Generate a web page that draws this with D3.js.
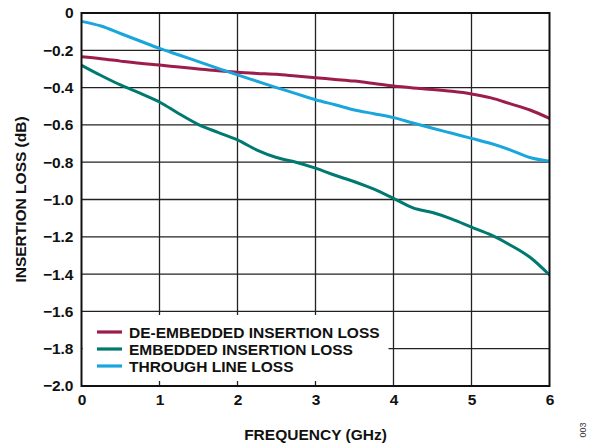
<!DOCTYPE html>
<html>
<head>
<meta charset="utf-8">
<script src="https://cdn.jsdelivr.net/npm/d3@7"></script>
<style>
  html, body { margin: 0; padding: 0; background: #fff; }
  svg { display: block; font-family: "Liberation Sans", Arial, Helvetica, sans-serif; }
</style>
</head>
<body>
<svg id="chart" width="596" height="448"></svg>
<script>
// ---- data ----
const freq = [0, 0.25, 0.5, 0.75, 1.0, 1.25, 1.5, 1.75, 2.0, 2.25, 2.5, 2.75, 3.0,
              3.25, 3.5, 3.75, 4.0, 4.25, 4.5, 4.75, 5.0, 5.25, 5.5, 5.75, 6.0];
const deEmbedded = [-0.235, -0.245, -0.258, -0.27, -0.279, -0.29, -0.30, -0.31, -0.318, -0.324, -0.329, -0.338, -0.347,
                    -0.356, -0.365, -0.378, -0.392, -0.402, -0.41, -0.42, -0.434, -0.455, -0.487, -0.52, -0.565];
const embedded = [-0.28, -0.335, -0.386, -0.43, -0.477, -0.54, -0.598, -0.64, -0.68, -0.735, -0.775, -0.80, -0.832,
                  -0.87, -0.905, -0.945, -0.994, -1.045, -1.07, -1.105, -1.148, -1.19, -1.245, -1.31, -1.405];
const throughLine = [-0.045, -0.07, -0.11, -0.15, -0.19, -0.225, -0.261, -0.297, -0.332, -0.366, -0.40, -0.432, -0.465,
                     -0.492, -0.52, -0.54, -0.561, -0.59, -0.618, -0.645, -0.672, -0.70, -0.735, -0.775, -0.795];
const seriesNames = ["DE-EMBEDDED INSERTION LOSS", "EMBEDDED INSERTION LOSS", "THROUGH LINE LOSS"];
const seriesColors = ["#9c1c4c", "#007a70", "#1aa6dc"];
const xTicks = [0, 1, 2, 3, 4, 5, 6];
const yTicks = [0, -0.2, -0.4, -0.6, -0.8, -1.0, -1.2, -1.4, -1.6, -1.8, -2.0];
const xTitle = "FREQUENCY (GHz)";
const yTitle = "INSERTION LOSS (dB)";
const figId = "003";

// ---- layout ----
const svg = d3.select("#chart");
const L = 81.5, R = 549.5, T = 13, B = 386;
const x = d3.scaleLinear().domain([0, 6]).range([L, R]);
const y = d3.scaleLinear().domain([-2, 0]).range([B, T]);
const FS = 15.5;

// grid
const grid = svg.append("g");
grid.selectAll("line.v").data(xTicks.slice(1, -1)).join("line")
  .attr("x1", d => x(d)).attr("x2", d => x(d)).attr("y1", T).attr("y2", B)
  .attr("stroke", "#222").attr("stroke-width", 1.3);
grid.selectAll("line.h").data(yTicks.slice(1, -1)).join("line")
  .attr("x1", L).attr("x2", R).attr("y1", d => y(d)).attr("y2", d => y(d))
  .attr("stroke", "#222").attr("stroke-width", 1.3);

// axes (labels only)
const fmtY = d => d === 0 ? "0" : "\u2212" + Math.abs(d).toFixed(1);
const yAxis = svg.append("g").attr("transform", `translate(${L},0)`)
  .call(d3.axisLeft(y).tickValues(yTicks).tickFormat(fmtY).tickSize(0).tickPadding(8));
const xAxis = svg.append("g").attr("transform", `translate(0,${B})`)
  .call(d3.axisBottom(x).tickValues(xTicks).tickFormat(d3.format("d")).tickSize(0).tickPadding(8));
[yAxis, xAxis].forEach(a => {
  a.select(".domain").remove();
  a.selectAll("text").attr("font-size", FS).attr("font-weight", "bold")
    .attr("font-family", "'Liberation Sans', Arial, sans-serif").attr("fill", "#111");
});

// series
const lineGen = d3.line().x((d, i) => x(freq[i])).y(d => y(d)).curve(d3.curveMonotoneX);
const allSeries = [deEmbedded, embedded, throughLine];
svg.append("clipPath").attr("id", "clip").append("rect")
  .attr("x", L).attr("y", T).attr("width", R - L).attr("height", B - T);

// legend box (drawn over grid, under lines)
const legend = svg.append("g");
legend.append("rect").attr("x", L + 1).attr("y", 315).attr("width", 306).attr("height", 66).attr("fill", "#fff");
seriesNames.forEach((n, i) => {
  const yy = 332 + i * 17;
  legend.append("line").attr("x1", 97).attr("x2", 122).attr("y1", yy).attr("y2", yy)
    .attr("stroke", seriesColors[i]).attr("stroke-width", 3.2);
  legend.append("text").attr("x", 129).attr("y", yy + 5.5).text(n)
    .attr("font-size", FS).attr("font-weight", "bold").attr("fill", "#111");
});

svg.append("g").attr("clip-path", "url(#clip)").selectAll("path").data(allSeries).join("path")
  .attr("d", lineGen).attr("fill", "none")
  .attr("stroke", (d, i) => seriesColors[i]).attr("stroke-width", 3)
  .attr("stroke-linejoin", "round");

// frame
svg.append("rect").attr("x", L).attr("y", T).attr("width", R - L).attr("height", B - T)
  .attr("fill", "none").attr("stroke", "#111").attr("stroke-width", 2);

// titles
svg.append("text").attr("x", (L + R) / 2).attr("y", 440).attr("text-anchor", "middle")
  .attr("font-size", FS).attr("font-weight", "bold").attr("fill", "#111").text(xTitle);
svg.append("text").attr("transform", `translate(26,${(T + B) / 2}) rotate(-90)`).attr("text-anchor", "middle")
  .attr("font-size", FS).attr("font-weight", "bold").attr("fill", "#111").text(yTitle);
svg.append("text").attr("transform", "translate(586,430) rotate(-90)").attr("text-anchor", "middle")
  .attr("font-size", 9).attr("fill", "#333").text(figId);
</script>
</body>
</html>
